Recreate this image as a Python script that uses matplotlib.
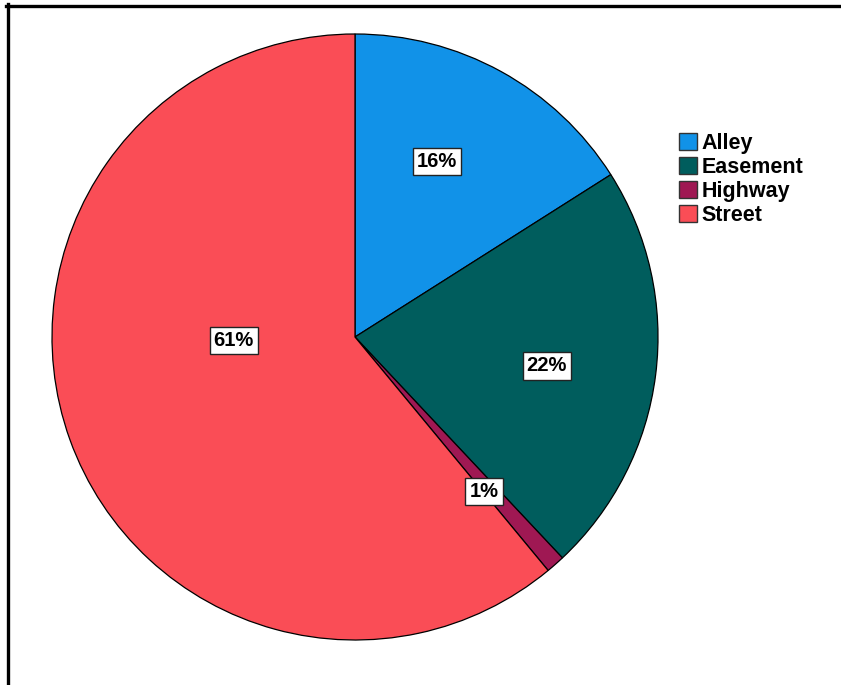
import matplotlib.pyplot as plt
from matplotlib.lines import Line2D
import numpy as np

plt.rcParams['font.family'] = ['Liberation Sans', 'DejaVu Sans']

# share of locations by type
categories = ['Alley', 'Easement', 'Highway', 'Street']
percent = [16, 22, 1, 61]
colors = ['#1192E8', '#005D5D', '#9F1853', '#FA4D56']

# where each label sits: (fraction of radius, shift in degrees from the mid angle)
label_place = [(0.64, -3.8), (0.64, 1.4), (0.665, 1.6), (0.40, 18)]

fig = plt.figure(figsize=(8.41, 6.85), dpi=100)
W, H = 841, 685
cx, cy, R = 355, 337, 303
ax = fig.add_axes([(cx - R) / W, (H - cy - R) / H, 2 * R / W, 2 * R / H])

wedges, _ = ax.pie(percent, colors=colors, startangle=90, counterclock=False,
                   radius=1, wedgeprops=dict(edgecolor='black', linewidth=0.9))
ax.set_xlim(-1, 1)
ax.set_ylim(-1, 1)
ax.set_aspect('equal')
ax.axis('off')

for w, p, (r, shift) in zip(wedges, percent, label_place):
    mid = np.deg2rad((w.theta1 + w.theta2) / 2 - shift)
    ax.text(r * np.cos(mid), r * np.sin(mid), f'{p}%', ha='center', va='center',
            fontsize=14.5, fontweight='bold',
            bbox=dict(boxstyle='square,pad=0.2', fc='white', ec='#222222', lw=1))

handles = [plt.Rectangle((0, 0), 1, 1, fc=c, ec='#333333', lw=1) for c in colors]
fig.legend(handles, categories, loc='upper left', bbox_to_anchor=(679 / W, 1 - 133 / H),
           frameon=False, prop=dict(size=15.5, weight='bold'), handlelength=0.85,
           handleheight=0.8, handletextpad=0.2, labelspacing=0.14, borderpad=0,
           borderaxespad=0)

# outer frame: top and left edges
fig.add_artist(Line2D([6 / W, 840 / W], [1 - 5.5 / H] * 2, color='black', lw=2.4,
                      transform=fig.transFigure))
fig.add_artist(Line2D([7.5 / W] * 2, [0, 1 - 4 / H], color='black', lw=2.4,
                      transform=fig.transFigure))

fig.savefig('out.png', dpi=100)
